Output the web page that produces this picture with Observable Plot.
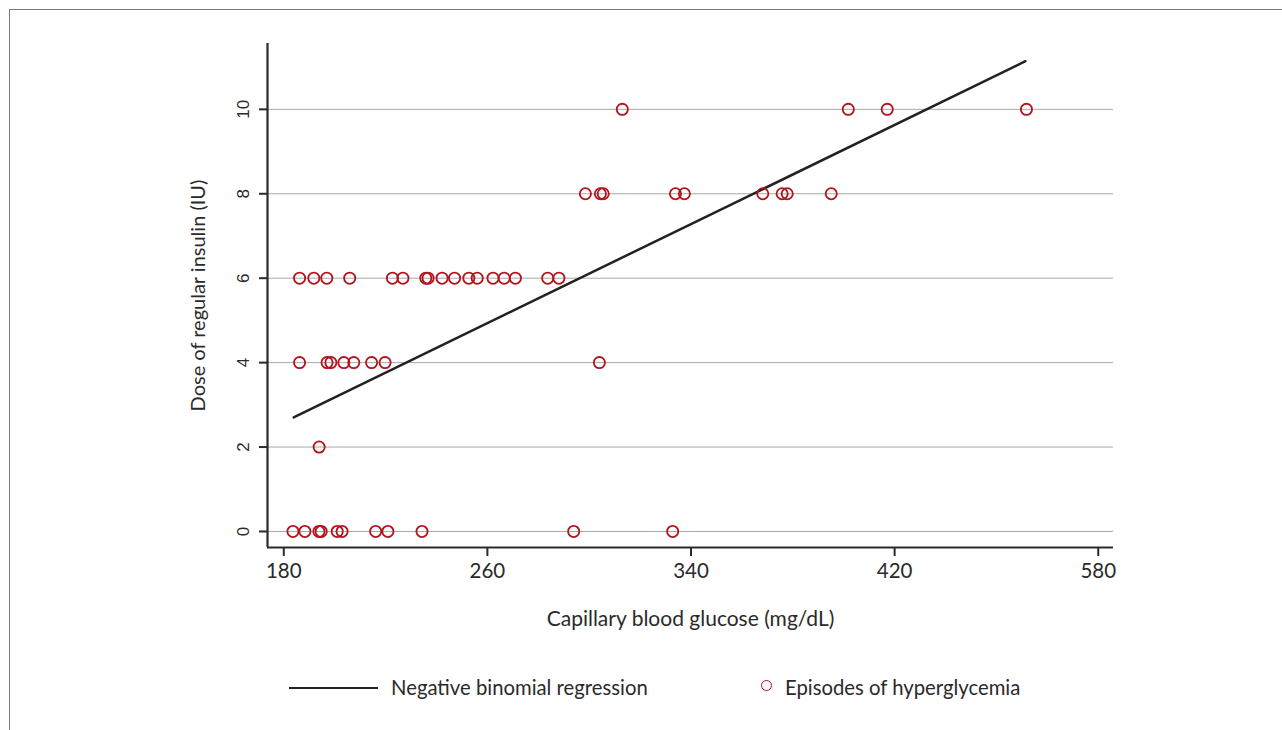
<!DOCTYPE html>
<html>
<head>
<meta charset="utf-8">
<script src="https://cdn.jsdelivr.net/npm/d3@7"></script>
<script src="https://cdn.jsdelivr.net/npm/@observablehq/plot@0.6"></script>
<style>
  html, body { margin: 0; padding: 0; background: #fff; }
  body { width: 1282px; height: 730px; position: relative; overflow: hidden; font-family: Lato, "Open Sans", sans-serif; }
  #frame { position: absolute; left: 9px; top: 9px; width: 1273px; height: 721px; border-top: 1px solid #7a7a7a; border-left: 1px solid #7a7a7a; box-sizing: border-box; }
  #chart { position: absolute; left: 0; top: 0; }
  #legend { position: absolute; left: 0; top: 674px; width: 1282px; height: 30px; font-family: Lato, sans-serif; font-size: 20.3px; color: #2a2a2a; }
  .lg-line { position: absolute; left: 289px; top: 13px; width: 89px; height: 0; border-top: 2.5px solid #222; }
  .lg-text1 { position: absolute; left: 391px; top: 1px; }
  .lg-dot { position: absolute; left: 761px; top: 6px; width: 9px; height: 9px; border: 1.8px solid #b3131b; border-radius: 50%; }
  .lg-text2 { position: absolute; left: 785px; top: 1px; }
</style>
</head>
<body>
<div id="frame"></div>
<div id="chart"></div>
<div id="legend">
  <div class="lg-line"></div><div class="lg-text1">Negative binomial regression</div>
  <div class="lg-dot"></div><div class="lg-text2">Episodes of hyperglycemia</div>
</div>
<script>
// Episodes of hyperglycemia: capillary blood glucose (mg/dL) and dose of regular insulin (IU)
const glucose0  = [183.6, 188.3, 193.8, 194.7, 201.0, 202.9, 216.1, 220.9, 234.3, 293.9, 332.8];
const glucose2  = [193.9];
const glucose4  = [186.2, 197.0, 198.5, 203.6, 207.5, 214.5, 219.8, 304.0];
const glucose6  = [186.2, 191.8, 196.9, 205.9, 222.7, 226.8, 235.8, 236.7, 242.2, 247.1, 252.7, 256.0, 262.2, 266.6, 271.0, 283.7, 288.1];
const glucose8  = [298.5, 304.4, 305.5, 333.9, 337.4, 368.2, 375.8, 377.8, 395.1];
const glucose10 = [313.0, 401.8, 417.1, 471.8];
const doseLevels = [0, 2, 4, 6, 8, 10];

// Negative binomial regression line
const regGlucose = [183.9, 471.4];
const regDose = [2.70, 11.14];

// Axes
const xTicks = [180, 260, 340, 420, 500];
const xTickLabels = ["180", "260", "340", "420", "580"];
const yTicks = [0, 2, 4, 6, 8, 10];
const xDomain = [173.6, 506];
const yDomain = [-0.38, 11.56];
const xTitle = "Capillary blood glucose (mg/dL)";
const yTitle = "Dose of regular insulin (IU)";

const groups = [glucose0, glucose2, glucose4, glucose6, glucose8, glucose10];
const points = [];
groups.forEach((g, i) => g.forEach(v => points.push({glucose: v, dose: doseLevels[i]})));
const reg = regGlucose.map((g, i) => ({glucose: g, dose: regDose[i]}));

const ink = "#2a2a2a";
const red = "#b3131b";

const chart = Plot.plot({
  width: 1282,
  height: 650,
  marginLeft: 267,
  marginRight: 169,
  marginTop: 43,
  marginBottom: 103,
  style: {fontFamily: "Lato, sans-serif", fontSize: "20px", color: ink, background: "transparent"},
  x: {domain: xDomain, ticks: xTicks, axis: null},
  y: {domain: yDomain, ticks: yTicks, axis: null},
  marks: [
    Plot.ruleY(yTicks, {y: d => d, stroke: "#a8a8a8", strokeWidth: 1}),
    Plot.axisX({ticks: xTicks, tickSize: 9, tickPadding: 7, strokeWidth: 2, stroke: ink, fill: ink,
      tickFormat: d => xTickLabels[xTicks.indexOf(d)], label: null, fontSize: 20.5}),
    Plot.axisY({ticks: yTicks, tickSize: 8, strokeWidth: 2, stroke: ink, tickFormat: () => "", label: null}),
    Plot.text(yTicks, {x: xDomain[0], y: d => d, text: d => String(d), dx: -24, rotate: -90,
      textAnchor: "middle", lineAnchor: "middle", fontFamily: "'Liberation Sans', Arial, sans-serif", fontSize: 17, fill: ink}),
    Plot.ruleX([xDomain[0]], {y1: yDomain[0], y2: yDomain[1], stroke: ink, strokeWidth: 2.2}),
    Plot.ruleY([yDomain[0]], {x1: xDomain[0], x2: xDomain[1], stroke: ink, strokeWidth: 2.2}),
    Plot.line(reg, {x: "glucose", y: "dose", stroke: "#222", strokeWidth: 2.5}),
    Plot.dot(points, {x: "glucose", y: "dose", r: 5.6, stroke: red, strokeWidth: 1.8, fill: "none"}),
    Plot.text([xTitle], {frameAnchor: "bottom", dy: 72, text: d => d, textAnchor: "middle", lineAnchor: "middle", fontSize: 21, fill: ink}),
    Plot.text([yTitle], {frameAnchor: "left", dx: -69, rotate: -90, text: d => d, textAnchor: "middle", lineAnchor: "middle", fontSize: 20, fill: ink})
  ]
});
document.getElementById("chart").appendChild(chart);
</script>
</body>
</html>
